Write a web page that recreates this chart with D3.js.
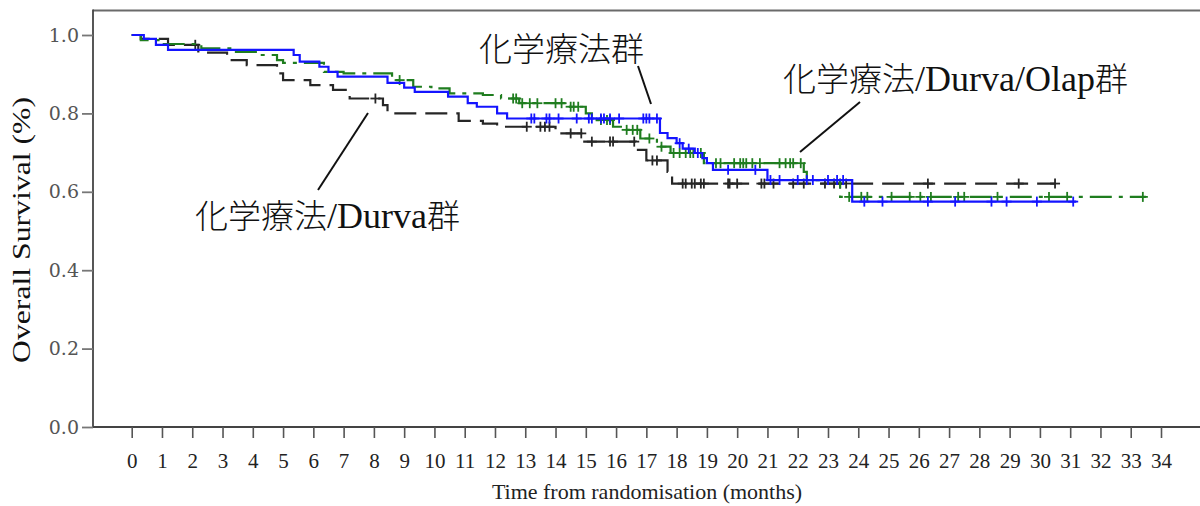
<!DOCTYPE html>
<html>
<head>
<meta charset="utf-8">
<script src="https://cdn.jsdelivr.net/npm/d3@7"></script>
<style>
  html, body { margin: 0; padding: 0; background: #fff; }
  svg { display: block; }
</style>
</head>
<body>
<svg id="chart" width="1200" height="506"></svg>
<script>
// ---- data ----
const xTicks = d3.range(0, 35);
const yTicks = [0.0, 0.2, 0.4, 0.6, 0.8, 1.0];

// 化学療法群 (chemotherapy) - blue solid
const chemoTimes = [0, 0.4, 0.8, 1.2, 5.35, 5.55, 6.2, 6.5, 6.8, 8.45, 9.0, 9.35, 10.45, 11.1, 11.4, 12.07, 12.4, 17.45, 17.7, 18.0, 18.2, 18.6, 18.85, 19.0, 19.2, 21.0, 23.8, 31.2];
const chemoSurv  = [1.0, 0.99, 0.975, 0.962, 0.949, 0.932, 0.919, 0.906, 0.894, 0.878, 0.866, 0.855, 0.843, 0.826, 0.817, 0.800, 0.787, 0.750, 0.737, 0.724, 0.710, 0.699, 0.686, 0.673, 0.656, 0.630, 0.575, 0.575];
const chemoCensor = [13.2, 13.3, 13.7, 13.8, 14.1, 14.7, 15.1, 15.2, 15.5, 15.6, 15.8, 16.1, 16.9, 17.0, 17.1, 17.35, 18.1, 18.4, 18.7, 19.7, 20.6, 21.1, 21.4, 22.0, 22.3, 22.5, 23.0, 23.3, 23.5, 24.2, 24.8, 26.3, 27.2, 28.4, 28.9, 29.9, 31.1];

// 化学療法/Durva群 - black dashed
const durvaTimes = [0, 0.3, 1.2, 2.2, 3.15, 3.8, 4.8, 5.0, 5.9, 6.65, 7.2, 8.3, 8.45, 10.8, 11.6, 12.07, 14.0, 14.95, 16.65, 17.0, 17.7, 17.85, 30.5];
const durvaSurv  = [1.0, 0.99, 0.975, 0.955, 0.936, 0.923, 0.902, 0.885, 0.872, 0.860, 0.838, 0.821, 0.800, 0.781, 0.774, 0.766, 0.749, 0.728, 0.707, 0.680, 0.651, 0.621, 0.621];
const durvaCensor = [2.1, 8.05, 13.05, 13.5, 13.65, 13.8, 14.5, 14.85, 15.2, 15.8, 15.9, 16.6, 17.2, 17.35, 18.2, 18.3, 18.5, 18.6, 18.8, 18.9, 19.7, 19.75, 20.0, 20.8, 20.9, 21.2, 21.85, 22.2, 22.9, 23.2, 23.4, 23.6, 26.3, 29.3, 30.5];

// 化学療法/Durva/Olap群 - green dash-dot
const olapTimes = [0, 0.3, 1.0, 2.3, 3.4, 4.1, 4.8, 5.0, 6.35, 7.0, 8.6, 9.3, 9.9, 10.5, 11.6, 12.2, 12.8, 14.4, 15.0, 15.2, 15.9, 16.2, 16.8, 17.35, 17.8, 18.9, 22.2, 22.3, 23.4, 33.5];
const olapSurv  = [1.0, 0.987, 0.977, 0.966, 0.957, 0.949, 0.936, 0.929, 0.906, 0.902, 0.885, 0.868, 0.864, 0.851, 0.847, 0.838, 0.826, 0.817, 0.800, 0.783, 0.766, 0.758, 0.736, 0.715, 0.699, 0.673, 0.651, 0.630, 0.587, 0.587];
const olapCensor = [8.85, 12.6, 12.7, 12.9, 13.15, 13.4, 14.0, 14.2, 14.5, 14.6, 14.75, 15.5, 15.7, 15.8, 16.35, 16.55, 16.7, 17.1, 17.5, 17.9, 18.1, 18.3, 18.45, 18.55, 18.8, 19.3, 19.45, 19.9, 20.1, 20.2, 20.3, 20.5, 20.75, 21.4, 21.6, 21.75, 21.85, 22.1, 23.7, 24.1, 24.3, 25.1, 25.7, 26.05, 26.4, 27.3, 27.5, 28.6, 30.3, 30.9, 33.4];

const labels = {
  chemo: "化学療法群",
  durva: "化学療法/Durva群",
  olap: "化学療法/Durva/Olap群"
};

// ---- drawing ----
const svg = d3.select("#chart");
const x = d3.scaleLinear().domain([0, 34]).range([131.7, 1161]);
const y = d3.scaleLinear().domain([0, 1]).range([427, 35]);

const frameLeft = 93, frameTop = 10.5, frameRight = 1200, frameBottom = 427;

// frame
svg.append("line").attr("x1", frameLeft).attr("x2", frameRight).attr("y1", frameTop).attr("y2", frameTop)
  .attr("stroke", "#6a6a6a").attr("stroke-width", 2);
svg.append("line").attr("x1", frameLeft).attr("x2", frameLeft).attr("y1", frameTop - 1).attr("y2", frameBottom)
  .attr("stroke", "#444").attr("stroke-width", 1.8);
svg.append("line").attr("x1", frameLeft).attr("x2", frameRight).attr("y1", frameBottom).attr("y2", frameBottom)
  .attr("stroke", "#444").attr("stroke-width", 1.8);

// y axis
const yAxis = svg.append("g").attr("transform", `translate(${frameLeft},0)`)
  .call(d3.axisLeft(y).tickValues(yTicks).tickFormat(d3.format(".1f")).tickSize(11).tickPadding(3));
yAxis.select(".domain").remove();
yAxis.selectAll(".tick line").attr("stroke", "#777").attr("stroke-width", 1.8);
yAxis.selectAll(".tick text").attr("font-family", "DejaVu Serif").attr("font-size", 19).attr("fill", "#555");

// x axis
const xAxis = svg.append("g").attr("transform", `translate(0,${frameBottom})`)
  .call(d3.axisBottom(x).tickValues(xTicks).tickFormat(d3.format("d")).tickSize(11).tickPadding(15));
xAxis.select(".domain").remove();
xAxis.selectAll(".tick line").attr("stroke", "#555").attr("stroke-width", 1.6);
xAxis.selectAll(".tick text").attr("font-family", "Liberation Serif").attr("font-size", 21).attr("fill", "#222");

// axis titles
svg.append("text").attr("x", 647).attr("y", 499).attr("text-anchor", "middle")
  .attr("font-family", "Liberation Serif").attr("font-size", 22).attr("fill", "#222")
  .text("Time from randomisation (months)");
svg.append("text").attr("transform", "translate(30,230) rotate(-90)").attr("text-anchor", "middle")
  .attr("font-family", "Liberation Serif").attr("font-size", 25).attr("fill", "#111")
  .attr("textLength", 266).attr("lengthAdjust", "spacingAndGlyphs")
  .text("Overall Survival (%)");

// curves
const line = d3.line().x(d => x(d[0])).y(d => y(d[1])).curve(d3.curveStepAfter);
function survAt(times, surv, t) {
  let s = surv[0];
  for (let i = 0; i < times.length; i++) { if (times[i] <= t) s = surv[i]; }
  return s;
}
function drawSeries(times, surv, censor, color, dash) {
  const pts = times.map((t, i) => [t, surv[i]]);
  const g = svg.append("g");
  g.append("path").attr("d", line(pts)).attr("fill", "none").attr("stroke", color)
    .attr("stroke-width", 2.2).attr("stroke-dasharray", dash);
  const c = g.selectAll(".c").data(censor).enter().append("g")
    .attr("transform", t => `translate(${x(t)},${y(survAt(times, surv, t))})`);
  c.append("line").attr("x1", 0).attr("x2", 0).attr("y1", -5).attr("y2", 5).attr("stroke", color).attr("stroke-width", 1.8);
  c.append("line").attr("x1", -5).attr("x2", 5).attr("y1", 0).attr("y2", 0).attr("stroke", color).attr("stroke-width", 1.8);
}
drawSeries(durvaTimes, durvaSurv, durvaCensor, "#262626", "22,9");
drawSeries(olapTimes, olapSurv, olapCensor, "#1f7d1f", "22,7,4,7");
drawSeries(chemoTimes, chemoSurv, chemoCensor, "#1414ff", null);

// annotations: CJK runs and Latin runs in separate tspans
function ann(txt, tx, ty, x1, y1, x2, y2) {
  const t = svg.append("text").attr("x", tx).attr("y", ty).attr("fill", "#111");
  const runs = txt.match(/[\u3000-\u9fff]+|[^\u3000-\u9fff]+/g);
  runs.forEach(r => {
    const cjk = /[\u3000-\u9fff]/.test(r);
    t.append("tspan")
      .attr("font-family", cjk ? "'Noto Sans CJK JP'" : "'Liberation Serif'")
      .attr("font-size", cjk ? 33 : 36)
      .attr("font-weight", cjk ? 300 : 400)
      .text(r);
  });
  svg.append("line").attr("x1", x1).attr("y1", y1).attr("x2", x2).attr("y2", y2)
    .attr("stroke", "#111").attr("stroke-width", 2);
}
ann(labels.chemo, 479, 61, 638, 66, 651, 104);
ann(labels.olap, 783, 91, 860, 102, 800, 152);
ann(labels.durva, 195, 228, 318, 190, 368, 113);
</script>
</body>
</html>
